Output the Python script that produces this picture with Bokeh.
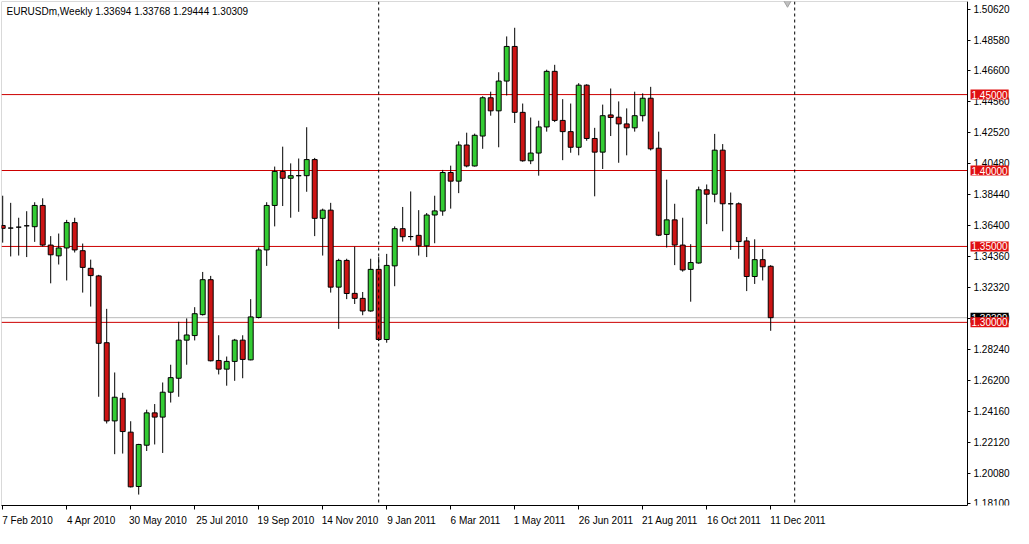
import math
import pandas as pd
from bokeh.plotting import figure
from bokeh.models import (FixedTicker, PrintfTickFormatter, Span, Label, ColumnDataSource,
                          BoxAnnotation)
from bokeh.embed import file_html
from bokeh.resources import INLINE

# ---------------- data ----------------
symbol_title = "EURUSDm,Weekly"
first_week = "2010-02-07"

opens = [1.3638, 1.3621, 1.3627, 1.3636, 1.3630, 1.3770, 1.3509, 1.3438, 1.3490, 1.3657,
         1.3472, 1.3356, 1.3306, 1.2866, 1.2351, 1.2500, 1.2277, 1.1919, 1.2191, 1.2404,
         1.2376, 1.2540, 1.2632, 1.2883, 1.2913, 1.3051, 1.3281, 1.2749, 1.2692, 1.2743,
         1.2883, 1.2753, 1.3032, 1.3477, 1.3770, 1.3994, 1.3949, 1.3966, 1.3966, 1.4072,
         1.3685, 1.3739, 1.3232, 1.3408, 1.3191, 1.3158, 1.3075, 1.3349, 1.2887, 1.3372,
         1.3617, 1.3565, 1.3573, 1.3504, 1.3707, 1.3733, 1.3987, 1.3930, 1.4168, 1.4030,
         1.4227, 1.4479, 1.4393, 1.4589, 1.4817, 1.4383, 1.4064, 1.4115, 1.4287, 1.4653,
         1.4330, 1.4256, 1.4153, 1.4562, 1.4211, 1.4121, 1.4366, 1.4351, 1.4307, 1.4281,
         1.4361, 1.4476, 1.4147, 1.3579, 1.3675, 1.3509, 1.3349, 1.3391, 1.3873, 1.3844,
         1.4134, 1.3781, 1.3781, 1.3536, 1.3302, 1.3413, 1.33694]
highs = [1.3834, 1.3787, 1.3689, 1.3732, 1.3791, 1.3817, 1.3568, 1.3585, 1.3675, 1.3689,
         1.3519, 1.3413, 1.3313, 1.3089, 1.2670, 1.2536, 1.2349, 1.2200, 1.2425, 1.2462,
         1.2604, 1.2721, 1.3004, 1.3026, 1.3100, 1.3332, 1.3306, 1.2915, 1.2775, 1.2891,
         1.2915, 1.3153, 1.3493, 1.3791, 1.4026, 1.4157, 1.4047, 1.4079, 1.4285, 1.4083,
         1.3749, 1.3787, 1.3419, 1.3419, 1.3498, 1.3200, 1.3419, 1.3430, 1.3451, 1.3632,
         1.3760, 1.3862, 1.3739, 1.3720, 1.3834, 1.4004, 1.4032, 1.4192, 1.4249, 1.4243,
         1.4489, 1.4519, 1.4647, 1.4883, 1.4940, 1.4441, 1.4349, 1.4328, 1.4664, 1.4696,
         1.4470, 1.4441, 1.4575, 1.4568, 1.4281, 1.4434, 1.4540, 1.4455, 1.4409, 1.4519,
         1.4508, 1.4551, 1.4256, 1.3940, 1.3781, 1.3689, 1.3515, 1.3894, 1.3908, 1.4241,
         1.4174, 1.3855, 1.3790, 1.3562, 1.3547, 1.3483, 1.33768]
lows = [1.3525, 1.3434, 1.3440, 1.3430, 1.3530, 1.3500, 1.3257, 1.3381, 1.3276, 1.3460,
        1.3196, 1.3104, 1.2510, 1.2334, 1.2132, 1.2136, 1.1913, 1.1866, 1.2153, 1.2196,
        1.2140, 1.2472, 1.2510, 1.2721, 1.2881, 1.3045, 1.2743, 1.2657, 1.2583, 1.2615,
        1.2632, 1.2750, 1.3026, 1.3372, 1.3632, 1.3766, 1.3689, 1.3728, 1.3860, 1.3568,
        1.3440, 1.3196, 1.2957, 1.3153, 1.3121, 1.3047, 1.3070, 1.2877, 1.2866, 1.3238,
        1.3532, 1.3540, 1.3440, 1.3430, 1.3521, 1.3702, 1.3749, 1.3851, 1.4021, 1.4026,
        1.4143, 1.4361, 1.4153, 1.4494, 1.4313, 1.4058, 1.4042, 1.3966, 1.4256, 1.4319,
        1.4068, 1.4117, 1.4100, 1.4196, 1.3830, 1.4010, 1.4227, 1.4051, 1.4100, 1.4256,
        1.4323, 1.4132, 1.3568, 1.3493, 1.3377, 1.3334, 1.3136, 1.3387, 1.3647, 1.3791,
        1.3600, 1.3477, 1.3419, 1.3206, 1.3253, 1.3276, 1.29444]
closes = [1.3619, 1.3621, 1.3627, 1.3636, 1.3770, 1.3509, 1.3445, 1.3490, 1.3657, 1.3477,
          1.3362, 1.3308, 1.2862, 1.2351, 1.2507, 1.2281, 1.1917, 1.2196, 1.2404, 1.2376,
          1.2540, 1.2636, 1.2883, 1.2917, 1.3057, 1.3281, 1.2747, 1.2692, 1.2743, 1.2883,
          1.2756, 1.3036, 1.3477, 1.3770, 1.3994, 1.3949, 1.3966, 1.3966, 1.4072, 1.3685,
          1.3739, 1.3232, 1.3408, 1.3190, 1.3158, 1.3075, 1.3349, 1.2887, 1.3375, 1.3617,
          1.3564, 1.3565, 1.3504, 1.3707, 1.3734, 1.3987, 1.3930, 1.4168, 1.4030, 1.4232,
          1.4479, 1.4393, 1.4589, 1.4817, 1.4383, 1.4064, 1.4115, 1.4287, 1.4653, 1.4330,
          1.4256, 1.4153, 1.4562, 1.4211, 1.4121, 1.4361, 1.4349, 1.4307, 1.4281, 1.4361,
          1.4476, 1.4143, 1.3574, 1.3675, 1.3509, 1.3345, 1.3394, 1.3873, 1.3844, 1.4134,
          1.3781, 1.3781, 1.3532, 1.3302, 1.3413, 1.3366, 1.30309]

level_lines = [1.45, 1.40, 1.35, 1.30]
level_labels = ["1.45000", "1.40000", "1.35000", "1.30000"]
last_price = 1.30309
last_price_label = "1.30309"

price_ticks = [1.50620, 1.48580, 1.46600, 1.44560, 1.42520, 1.40480, 1.38440, 1.36400,
               1.34360, 1.32320, 1.30280, 1.28240, 1.26200, 1.24160, 1.22120, 1.20080, 1.18100]
date_tick_labels = ["7 Feb 2010", "4 Apr 2010", "30 May 2010", "25 Jul 2010", "19 Sep 2010",
                    "14 Nov 2010", "9 Jan 2011", "6 Mar 2011", "1 May 2011", "26 Jun 2011",
                    "21 Aug 2011", "16 Oct 2011", "11 Dec 2011"]
date_tick_step = 8          # one label every 8 weekly bars
separator_years = [2011, 2012]
chart_shift_bars = 2.1

# ---------------- styling / layout ----------------
FONT = "Liberation Sans"
BULL = "#33CC33"
BEAR = "#CC1414"
LEVEL_COLOR = "#CC0000"
BOX_COLOR = "#E01010"

n = len(opens)
dates = pd.date_range(first_week, periods=n, freq="7D")
xs = list(range(n))

FIG_W = 1013
CHART_W = 966            # price area width in px; the rest is the price-scale strip
FRAME_H = 504
PX_PER_BAR = 8
x_start = -0.15
chart_end = x_start + CHART_W / PX_PER_BAR
x_end = x_start + (FIG_W - 1) / PX_PER_BAR
y_start, y_end = 1.1794, 1.5113

p = figure(frame_width=FIG_W - 1, frame_height=FRAME_H,
           x_range=(x_start, x_end), y_range=(y_start, y_end),
           output_backend="svg", toolbar_location=None, y_axis_location="right",
           min_border_left=1, min_border_top=1, min_border_right=0, min_border_bottom=0)
p.background_fill_color = "white"
p.border_fill_color = "white"
p.outline_line_color = None
p.xgrid.visible = False
p.ygrid.visible = False

# chart border
p.add_layout(BoxAnnotation(right=chart_end, fill_alpha=0, line_color="black", line_width=1))

# price axis, drawn at the right edge of the price area
ya = p.yaxis[0]
ya.fixed_location = chart_end
ya.ticker = FixedTicker(ticks=price_ticks)
ya.formatter = PrintfTickFormatter(format="%.5f")
ya.major_tick_in = 0
ya.major_tick_out = 3
ya.minor_tick_line_color = None
ya.major_label_standoff = 3
ya.major_label_text_font = FONT
ya.major_label_text_font_size = "10px"
ya.major_label_text_color = "black"
ya.axis_line_color = "black"

# time axis: labels start at their tick, as in the terminal
tick_idx = [i * date_tick_step for i in range(len(date_tick_labels))]
label_pos = [t + 0.31 * len(lbl) for t, lbl in zip(tick_idx, date_tick_labels)]
xa = p.xaxis[0]
xa.bounds = (x_start, chart_end)
xa.ticker = FixedTicker(ticks=label_pos, minor_ticks=tick_idx)
xa.major_label_overrides = {pos: lbl for pos, lbl in zip(label_pos, date_tick_labels)}
xa.major_tick_line_color = None
xa.major_tick_in = 0
xa.major_tick_out = 0
xa.minor_tick_line_color = "black"
xa.minor_tick_in = 0
xa.minor_tick_out = 4
xa.major_label_standoff = 5
xa.major_label_text_font = FONT
xa.major_label_text_font_size = "10px"
xa.major_label_text_color = "black"
xa.axis_line_color = "black"

# period separators (start of each year)
for yr in separator_years:
    idx = math.ceil((pd.Timestamp(f"{yr}-01-01") - dates[0]).days / 7)
    p.add_layout(Span(location=idx, dimension="height", line_color="black",
                      line_width=1, line_dash="3 3"))

# level lines (price area only) and last-price line
p.segment(x0=[x_start] * len(level_lines), y0=level_lines,
          x1=[chart_end] * len(level_lines), y1=level_lines,
          line_color=LEVEL_COLOR, line_width=1)
p.segment(x0=[x_start], y0=[last_price], x1=[chart_end], y1=[last_price],
          line_color="#BBBBBB", line_width=1)

# candles
src = ColumnDataSource(dict(
    x=xs, open=opens, high=highs, low=lows, close=closes,
    top=[max(o, c) for o, c in zip(opens, closes)],
    bottom=[min(o, c) for o, c in zip(opens, closes)],
    color=[BULL if c >= o else BEAR for o, c in zip(opens, closes)],
))
p.segment(x0="x", y0="high", x1="x", y1="low", source=src, line_color="black", line_width=1)
p.vbar(x="x", width=0.62, top="top", bottom="bottom", source=src,
       fill_color="color", line_color="black", line_width=1)

# chart shift marker
p.scatter(x=[n - 1 + chart_shift_bars], y=[y_end], marker="inverted_triangle", size=10,
          fill_color="#C0C0C0", line_color="#A0A0A0")

# title inside the chart
title_txt = f"{symbol_title}  {opens[-1]:.5f} {highs[-1]:.5f} {lows[-1]:.5f} {closes[-1]:.5f}"
p.add_layout(Label(x=x_start, y=y_end, x_offset=5, y_offset=-10, text=title_txt,
                   text_font=FONT, text_font_size="10px", text_color="black",
                   text_baseline="middle", text_align="left"))

# price boxes on the price scale
p.add_layout(Label(x=chart_end, y=last_price, x_offset=3, text=last_price_label,
                   text_font=FONT, text_font_size="10px", text_color="white",
                   text_baseline="middle", text_align="left",
                   background_fill_color="black", background_fill_alpha=1.0,
                   padding=1))
for lv, lbl in zip(level_lines, level_labels):
    p.add_layout(Label(x=chart_end, y=lv, x_offset=3, text=lbl,
                       text_font=FONT, text_font_size="10px", text_color="white",
                       text_baseline="middle", text_align="left",
                       background_fill_color=BOX_COLOR, background_fill_alpha=1.0,
                       padding=1))

open("out.html", "w").write(file_html(p, INLINE))
